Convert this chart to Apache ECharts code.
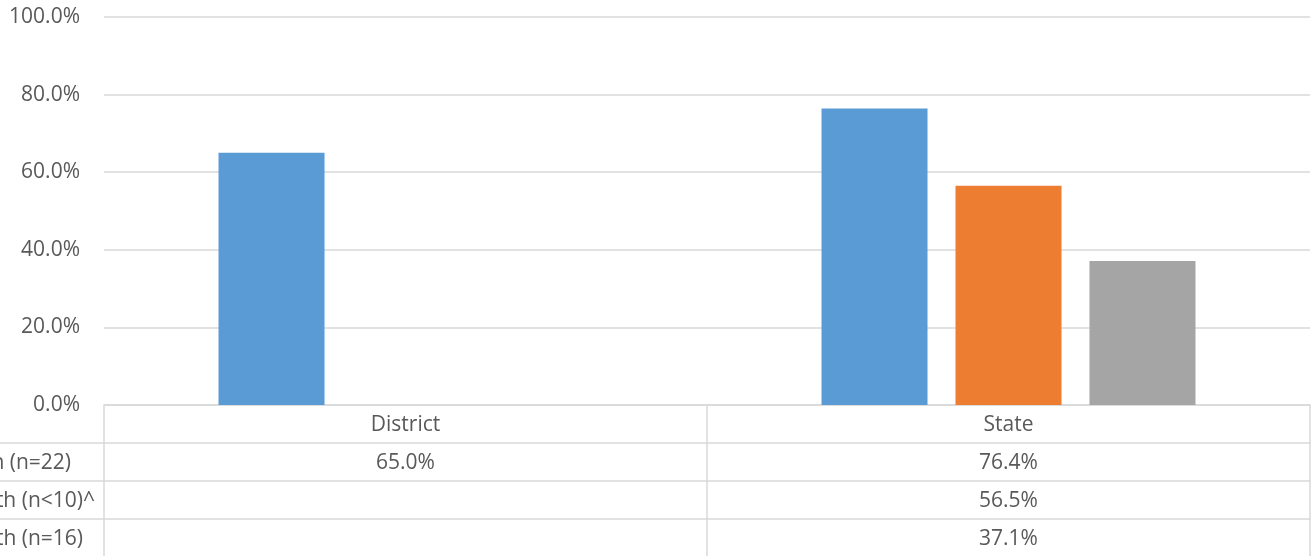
<!DOCTYPE html>
<html>
<head>
<meta charset="utf-8">
<script src="https://cdn.jsdelivr.net/npm/echarts@6/dist/echarts.min.js"></script>
<style>
  html, body { margin: 0; padding: 0; background: #fff; }
  #chart { width: 1312px; height: 556px; }
</style>
</head>
<body>
<div id="chart"></div>
<script>
const categories = ['District', 'State'];
const rowLabels = ['n (n=22)', 'th (n<10)^', 'th (n=16)'];
const seriesA = [65.0, 76.4];
const seriesB = [null, 56.5];
const seriesC = [null, 37.1];
const yTicks = [0, 20, 40, 60, 80, 100];

const colors = ['#5B9BD5', '#ED7D31', '#A5A5A5'];
const rows = [seriesA, seriesB, seriesC];
const textColor = '#595959';
const lineColor = '#d9d9d9';
const font = 'Open Sans';
const fs = 21;
const rowH = 38;
// how far each row label ends left of the table (the labels are cut off at the left)
const nameGaps = [33, 9, 21];

const chart = echarts.init(document.getElementById('chart'));

// main axis = header row, extra axes = one table row each
const xAxes = [{
  type: 'category',
  data: categories,
  axisLine: { show: true, lineStyle: { color: lineColor, width: 1.5 } },
  axisTick: { show: true, length: 151, interval: 0, lineStyle: { color: lineColor, width: 1.5 } },
  axisLabel: { color: textColor, fontFamily: font, fontSize: fs, lineHeight: 20, margin: 10, interval: 0 }
}];
rows.forEach((vals, r) => {
  xAxes.push({
    type: 'category',
    data: categories,
    position: 'bottom',
    offset: rowH * (r + 1),
    name: rowLabels[r],
    nameLocation: 'start',
    nameGap: nameGaps[r],
    nameTextStyle: { color: textColor, fontFamily: font, fontSize: fs, lineHeight: 20, verticalAlign: 'top', padding: [10, 0, 0, 0] },
    axisLine: { show: true, lineStyle: { color: lineColor, width: 1.5 } },
    axisTick: { show: false },
    axisLabel: {
      color: textColor, fontFamily: font, fontSize: fs, lineHeight: 20, margin: 10, interval: 0,
      formatter: (v, i) => vals[i] == null ? '' : vals[i].toFixed(1) + '%'
    }
  });
});

const option = {
  animation: false,
  grid: { left: 104, right: 2, top: 17, bottom: 151, outerBoundsMode: 'none' },
  xAxis: xAxes,
  yAxis: {
    type: 'value',
    min: yTicks[0],
    max: yTicks[yTicks.length - 1],
    interval: 20,
    axisLine: { show: false },
    axisTick: { show: false },
    splitLine: { lineStyle: { color: lineColor, width: 1.5 } },
    axisLabel: { color: textColor, fontFamily: font, fontSize: fs, margin: 24, formatter: v => v.toFixed(1) + '%' }
  },
  series: rows.map((vals, i) => ({
    name: rowLabels[i],
    type: 'bar',
    data: vals,
    barWidth: 106,
    barGap: '26.4%',
    itemStyle: { color: colors[i] }
  })),
  graphic: [0, 1, 2].map(r => ({
    type: 'line',
    shape: { x1: 0, y1: 405 + rowH * (r + 1), x2: 104, y2: 405 + rowH * (r + 1) },
    style: { stroke: lineColor, lineWidth: 1.5 }
  }))
};

chart.setOption(option);
</script>
</body>
</html>
